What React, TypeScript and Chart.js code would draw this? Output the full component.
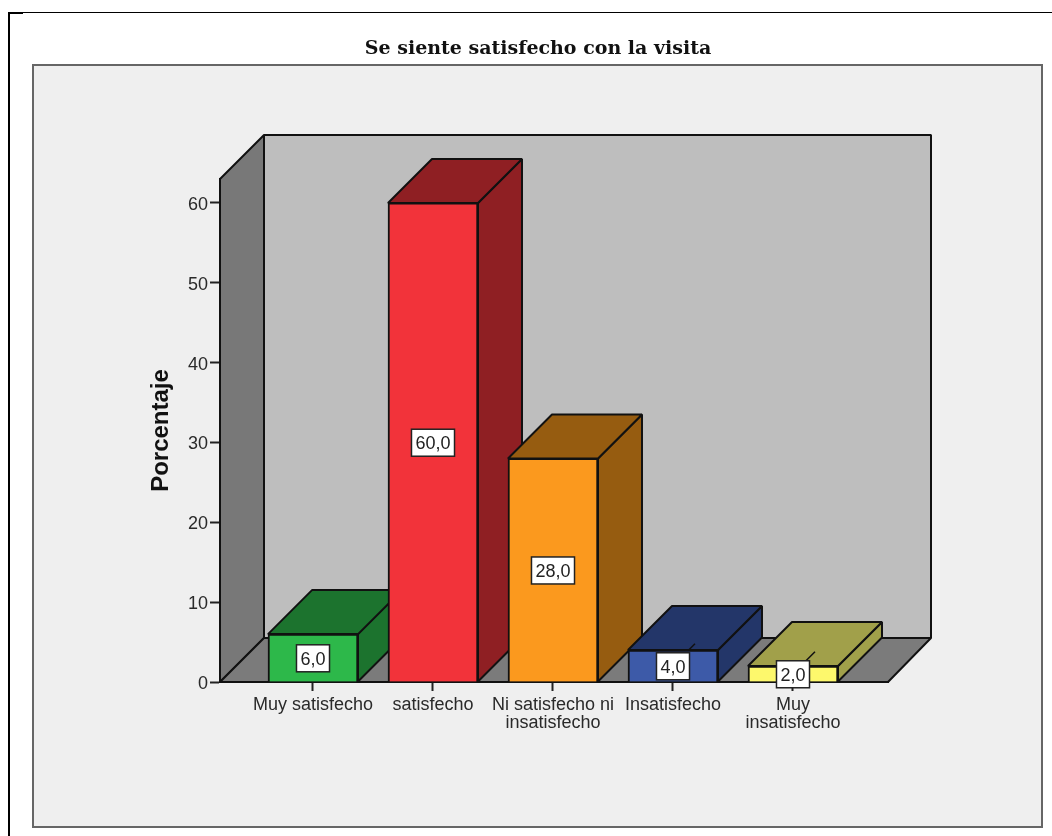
import React, { useEffect, useRef } from "react";
import { Chart, registerables } from "chart.js";

Chart.register(...registerables);

const categories: (string | string[])[] = [
  "Muy satisfecho",
  "satisfecho",
  ["Ni satisfecho ni", "insatisfecho"],
  "Insatisfecho",
  ["Muy", "insatisfecho"],
];
const percentages = [6, 60, 28, 4, 2];
const valueLabels = ["6,0", "60,0", "28,0", "4,0", "2,0"];
const yTicks = [0, 10, 20, 30, 40, 50, 60];
const frontColors = ["#2db84a", "#f2333a", "#fb991e", "#3d5aa8", "#fdf86c"];
const sideColors = ["#1c732e", "#8f1f23", "#965c10", "#233669", "#a1a04a"];
const titleText = "Se siente satisfecho con la visita";
const yTitle = "Porcentaje";

const DEPTH = 44;
const SANS = '"Liberation Sans", Arial, sans-serif';

function poly(ctx: CanvasRenderingContext2D, pts: number[][], fill: string, stroke = "#111", lw = 2) {
  ctx.beginPath();
  pts.forEach((p, i) => (i ? ctx.lineTo(p[0], p[1]) : ctx.moveTo(p[0], p[1])));
  ctx.closePath();
  ctx.fillStyle = fill;
  ctx.fill();
  ctx.strokeStyle = stroke;
  ctx.lineWidth = lw;
  ctx.lineJoin = "bevel";
  ctx.stroke();
}

const scene = {
  id: "scene",
  afterLayout(chart: any) {
    // moves the centre of the title to the centre of the framed panel
    chart.titleBlock.left = 188;
  },
  beforeDraw(chart: any) {
    const ctx = chart.ctx as CanvasRenderingContext2D;
    ctx.save();
    ctx.fillStyle = "#ffffff";
    ctx.fillRect(0, 0, chart.width, chart.height);
    ctx.fillStyle = "#000";
    ctx.fillRect(8, 12, 1044, 1);
    ctx.fillRect(8, 13, 15, 1);
    ctx.fillRect(8, 12, 2, 824);
    ctx.fillStyle = "#efefef";
    ctx.fillRect(33, 65, 1009, 762);
    ctx.strokeStyle = "#666";
    ctx.lineWidth = 2;
    ctx.strokeRect(33, 65, 1009, 762);
    ctx.restore();
  },
  beforeDatasetsDraw(chart: any) {
    const ctx = chart.ctx as CanvasRenderingContext2D;
    const { left, right, top, bottom } = chart.chartArea;
    const d = DEPTH;
    ctx.save();
    poly(ctx, [[left + d, top - d], [right + d - 1, top - d], [right + d - 1, bottom - d], [left + d, bottom - d]], "#bebebe");
    poly(ctx, [[left, top], [left + d, top - d], [left + d, bottom - d], [left, bottom]], "#787878");
    poly(ctx, [[left, bottom], [left + d, bottom - d], [right + d - 1, bottom - d], [right, bottom]], "#7b7b7b");
    const meta = chart.getDatasetMeta(0);
    meta.data.forEach((bar: any, i: number) => {
      const l = bar.x - bar.width / 2;
      const r = bar.x + bar.width / 2;
      const t = bar.y;
      const b = bar.base;
      poly(ctx, [[r, t], [r + d, t - d], [r + d, b - d], [r, b]], sideColors[i]);
      poly(ctx, [[l, t], [l + d, t - d], [r + d, t - d], [r, t]], sideColors[i]);
    });
    ctx.restore();
  },
  afterDatasetsDraw(chart: any) {
    const ctx = chart.ctx as CanvasRenderingContext2D;
    const meta = chart.getDatasetMeta(0);
    ctx.save();
    ctx.font = `18px ${SANS}`;
    ctx.textAlign = "center";
    ctx.textBaseline = "middle";
    meta.data.forEach((bar: any, i: number) => {
      const cx = bar.x;
      const cy = (bar.y + bar.base) / 2;
      const half = DEPTH / 2;
      if (cy - half < bar.y) {
        ctx.beginPath();
        ctx.moveTo(cx + (cy - bar.y), bar.y);
        ctx.lineTo(cx + half, cy - half);
        ctx.strokeStyle = "#111";
        ctx.lineWidth = 1.5;
        ctx.stroke();
      }
      const w = ctx.measureText(valueLabels[i]).width + 8;
      const h = 27;
      ctx.fillStyle = "#fff";
      ctx.fillRect(cx - w / 2, cy - h / 2 + 0.5, w, h);
      ctx.strokeStyle = "#222";
      ctx.lineWidth = 1.5;
      ctx.strokeRect(cx - w / 2, cy - h / 2 + 0.5, w, h);
      ctx.fillStyle = "#222";
      ctx.fillText(valueLabels[i], cx, cy + 2);
    });
    ctx.restore();
  },
};

export default function App() {
  const ref = useRef<HTMLCanvasElement>(null);
  useEffect(() => {
    document.body.style.margin = "0";
    const chart = new Chart(ref.current as HTMLCanvasElement, {
      type: "bar",
      data: {
        datasets: [
          {
            data: percentages.map((y, x) => ({ x, y })),
            backgroundColor: frontColors,
            borderColor: "#111",
            borderWidth: 2,
            barThickness: 90,
            grouped: false,
          } as any,
        ],
      },
      options: {
        responsive: false,
        animation: false,
        layout: { padding: { top: 0, right: 164, bottom: 0, left: 0 } },
        plugins: {
          legend: { display: false },
          tooltip: { enabled: false },
          title: {
            display: true,
            text: titleText,
            color: "#111",
            font: { family: '"DejaVu Serif", serif', weight: "bold", size: 19, lineHeight: "20px" },
            padding: { top: 39, bottom: 120 },
          },
        },
        scales: {
          x: {
            type: "linear",
            offset: false,
            min: -0.775,
            max: 4.7917,
            afterBuildTicks: (s: any) => {
              s.ticks = categories.map((_, i) => ({ value: i }));
            },
            afterFit: (s: any) => {
              s.height = 154;
            },
            grid: { offset: false, drawOnChartArea: false, drawTicks: true, tickLength: 9, tickColor: "#222", tickWidth: 2, color: "#222" },
            border: { display: true, color: "#111", width: 2 },
            ticks: {
              autoSkip: false,
              maxRotation: 0,
              padding: 5,
              color: "#2a2a2a",
              font: { family: SANS, size: 18, lineHeight: "18px" },
              callback: (v: any) => categories[v as number],
            },
          },
          y: {
            min: 0,
            max: 63,
            afterBuildTicks: (s: any) => {
              s.ticks = yTicks.map((value) => ({ value }));
            },
            afterFit: (s: any) => {
              s.width = 220;
            },
            title: {
              display: true,
              text: yTitle,
              color: "#111",
              font: { family: SANS, weight: "bold", size: 24 },
              padding: { top: 147, bottom: 0 },
            },
            grid: { drawOnChartArea: false, drawTicks: true, tickLength: 10, tickColor: "#222", tickWidth: 2, color: "#222" },
            border: { display: true, color: "#111", width: 2 },
            ticks: { padding: 2, labelOffset: 2, color: "#2a2a2a", font: { family: SANS, size: 18 } },
          },
        },
      } as any,
      plugins: [scene],
    });
    return () => chart.destroy();
  }, []);
  return <canvas ref={ref} width={1052} height={836} style={{ display: "block" }} />;
}
